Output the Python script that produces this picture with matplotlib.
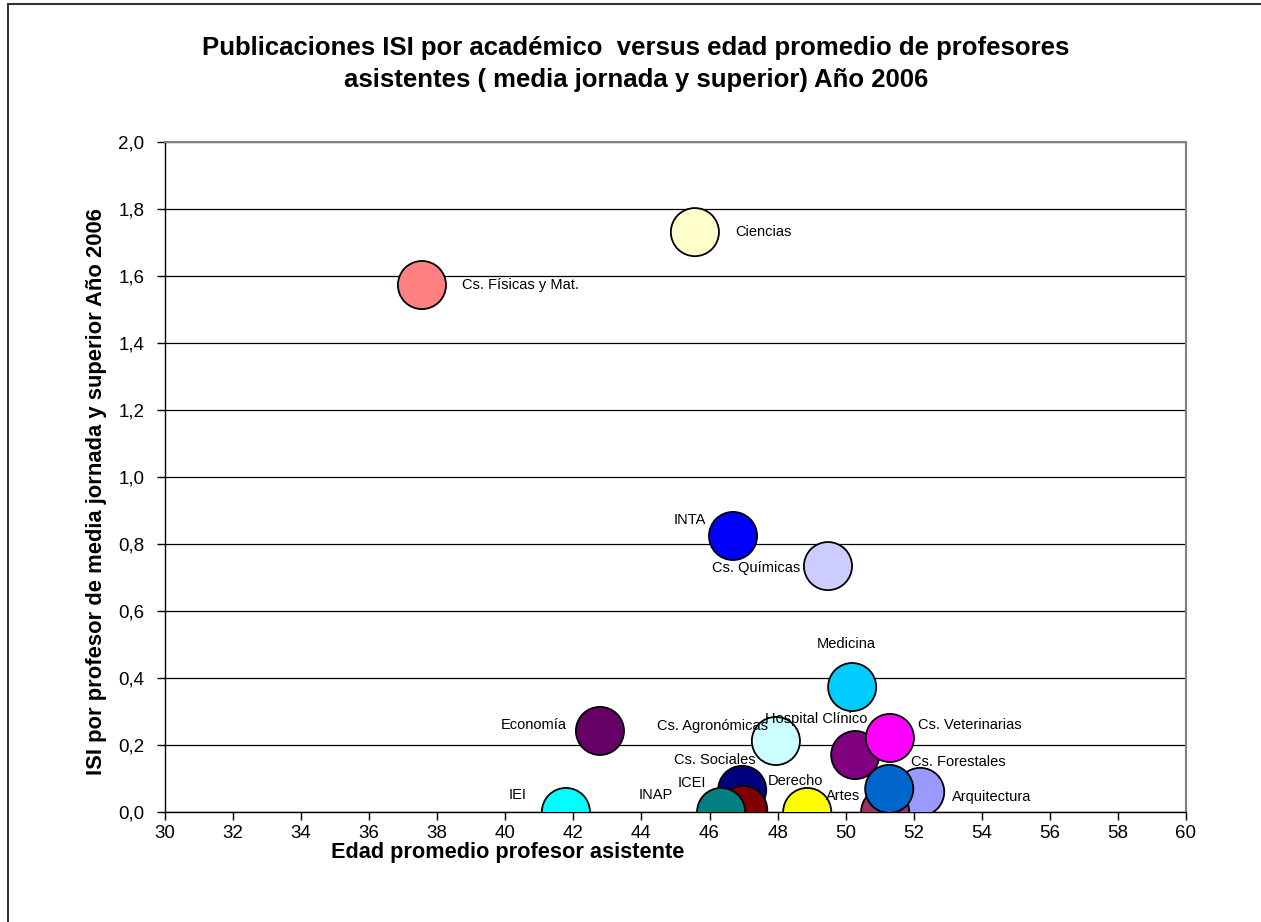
import matplotlib
matplotlib.use("Agg")
import matplotlib.pyplot as plt
from matplotlib.lines import Line2D

plt.rcParams['font.family'] = ['Liberation Sans', 'DejaVu Sans']

# datos
facultades = ["Cs. Físicas y Mat.", "Ciencias", "INTA", "Cs. Químicas", "Medicina",
              "Economía", "Cs. Agronómicas", "Hospital Clínico", "Cs. Veterinarias",
              "Cs. Sociales", "Arquitectura", "Artes", "Cs. Forestales", "Derecho",
              "ICEI", "INAP", "IEI"]
edad = [37.55, 45.57, 46.69, 49.48, 50.19, 42.78, 47.95, 50.28, 51.30,
        46.96, 52.19, 51.16, 51.28, 48.87, 46.99, 46.34, 41.78]
isi = [1.573, 1.731, 0.824, 0.734, 0.373, 0.242, 0.212, 0.170, 0.221,
       0.066, 0.060, 0.0, 0.069, 0.0, 0.006, 0.0, 0.0]
colores = ["#FF8080", "#FFFFCC", "#0000FF", "#CCCCFF", "#00CCFF", "#660066", "#CCFFFF",
           "#800080", "#FF00FF", "#000080", "#9999FF", "#993366", "#0066CC", "#FFFF00",
           "#800000", "#008080", "#00FFFF"]

xticks = [30, 32, 34, 36, 38, 40, 42, 44, 46, 48, 50, 52, 54, 56, 58, 60]
yticks = [0.0, 0.2, 0.4, 0.6, 0.8, 1.0, 1.2, 1.4, 1.6, 1.8, 2.0]
yticklabels = ["0,0", "0,2", "0,4", "0,6", "0,8", "1,0", "1,2", "1,4", "1,6", "1,8", "2,0"]

# posicion de etiquetas (offset en pixeles, alineacion)
offsets = {
    "Cs. Físicas y Mat.": (40, 0, "left"),
    "Ciencias": (40, 0, "left"),
    "INTA": (-27, 16, "right"),
    "Cs. Químicas": (-28, -2, "right"),
    "Medicina": (-6, 43, "center"),
    "Economía": (-33, 6, "right"),
    "Cs. Agronómicas": (-8, 15, "right"),
    "Hospital Clínico": (-39, 36, "center"),
    "Cs. Veterinarias": (28, 13, "left"),
    "Cs. Sociales": (13, 30, "right"),
    "Cs. Forestales": (22, 27, "left"),
    "Derecho": (-39, 31, "left"),
    "ICEI": (-37, 27, "right"),
    "INAP": (-48, 17, "right"),
    "IEI": (-39, 17, "right"),
    "Artes": (-25, 16, "right"),
    "Arquitectura": (32, -5, "left"),
}

fig = plt.figure(figsize=(12.61, 9.22), dpi=100)
ax = fig.add_axes([165 / 1261, 1 - 812 / 922, (1186 - 165) / 1261, (812 - 142) / 922])

ax.scatter(edad, isi, s=1200, c=colores, edgecolors="black", linewidths=1.3, zorder=3)

for nombre, x, y in zip(facultades, edad, isi):
    dx, dy, ha = offsets[nombre]
    ax.annotate(nombre, (x, y), xytext=(dx, dy), textcoords="offset pixels",
                ha=ha, va="center", fontsize=10.5, zorder=4)

ax.set_xlim(30, 60)
ax.set_ylim(0, 2.0)
ax.set_xticks(xticks)
ax.set_yticks(yticks)
ax.set_yticklabels(yticklabels)
ax.tick_params(labelsize=13.5, length=6, width=1, colors="black")
ax.tick_params(axis="y", pad=9)
ax.yaxis.grid(True, color="black", linewidth=0.9)
ax.set_axisbelow(True)
for s in ["top", "right"]:
    ax.spines[s].set_color("#808080")
    ax.spines[s].set_linewidth(1.5)
for s in ["left", "bottom"]:
    ax.spines[s].set_linewidth(1.0)

fig.text(636 / 1261, 1 - 64 / 922,
         "Publicaciones ISI por académico  versus edad promedio de profesores\n"
         "asistentes ( media jornada y superior) Año 2006",
         ha="center", va="center", fontsize=18.5, fontweight="bold", linespacing=1.4)
fig.text(508 / 1261, 1 - 852 / 922, "Edad promedio profesor asistente",
         ha="center", va="center", fontsize=15.7, fontweight="bold")
fig.text(97 / 1261, 1 - 492 / 922, "ISI por profesor de media jornada y superior Año 2006",
         ha="center", va="center", rotation=90, fontsize=15.8, fontweight="bold")

# marco del grafico
fig.add_artist(Line2D([8 / 1261, 8 / 1261], [0, 1 - 4 / 922], color="#333333", linewidth=1.5))
fig.add_artist(Line2D([8 / 1261, 1], [1 - 4 / 922, 1 - 4 / 922], color="#333333", linewidth=1.5))

fig.savefig("out.png", dpi=100)
